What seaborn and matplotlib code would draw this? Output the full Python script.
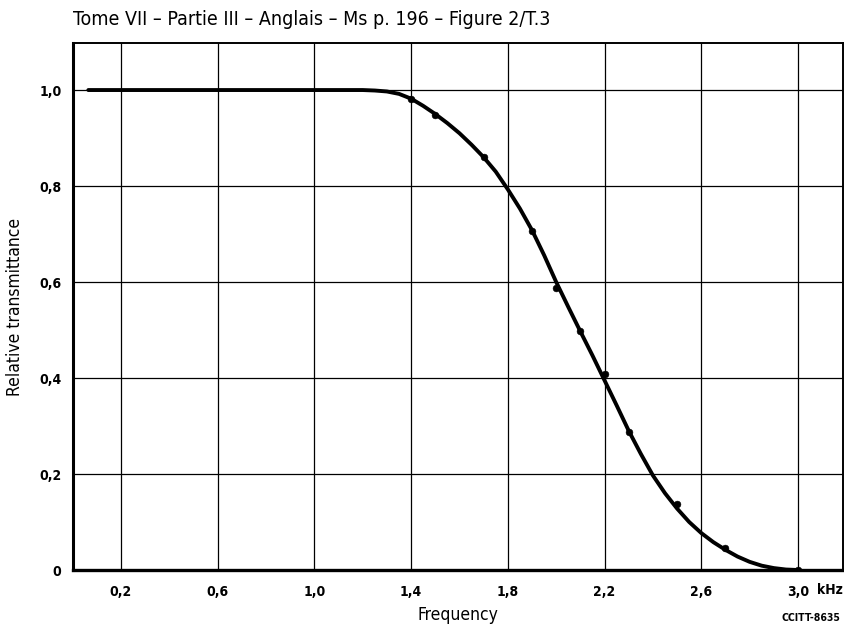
import matplotlib
matplotlib.use("Agg")
import matplotlib.pyplot as plt
import seaborn as sns
import pandas as pd

# Fitted curve
curve_x = [0.065, 0.4, 0.8, 1.1, 1.2, 1.25, 1.3, 1.35, 1.4, 1.45, 1.5, 1.55, 1.6, 1.65,
           1.7, 1.75, 1.8, 1.85, 1.9, 1.95, 2.0, 2.05, 2.1, 2.15, 2.2, 2.25, 2.3,
           2.35, 2.4, 2.45, 2.5, 2.55, 2.6, 2.65, 2.7, 2.75, 2.8, 2.85, 2.9, 2.95, 3.0]
curve_y = [1.0, 1.0, 1.0, 1.0, 1.0, 0.999, 0.997, 0.992, 0.982, 0.967, 0.950, 0.931,
           0.910, 0.886, 0.860, 0.830, 0.793, 0.753, 0.708, 0.656, 0.600, 0.548,
           0.497, 0.447, 0.395, 0.343, 0.290, 0.242, 0.197, 0.160, 0.128, 0.100,
           0.077, 0.058, 0.042, 0.028, 0.017, 0.009, 0.004, 0.001, 0.0]

# Measured points
meas_x = [1.4, 1.5, 1.7, 1.9, 2.0, 2.1, 2.2, 2.3, 2.5, 2.7, 3.0]
meas_y = [0.981, 0.948, 0.86, 0.706, 0.587, 0.498, 0.408, 0.287, 0.138, 0.046, 0.0]

xticks = [0.2, 0.6, 1.0, 1.4, 1.8, 2.2, 2.6, 3.0]
xticklabels = ["0,2", "0,6", "1,0", "1,4", "1,8", "2,2", "2,6", "3,0"]
yticks = [0, 0.2, 0.4, 0.6, 0.8, 1.0]
yticklabels = ["0", "0,2", "0,4", "0,6", "0,8", "1,0"]

sns.set_style("white")
plt.rcParams['font.family'] = ['DejaVu Sans']
plt.rcParams['font.stretch'] = 'condensed'
plt.rcParams['text.color'] = 'black'
plt.rcParams['axes.labelcolor'] = 'black'
plt.rcParams['xtick.color'] = 'black'
plt.rcParams['ytick.color'] = 'black'

fig = plt.figure(figsize=(8.45, 6.25), dpi=100)
ax = fig.add_axes([0.0859, 0.088, 0.9117, 0.8432])

df_curve = pd.DataFrame({"x": curve_x, "y": curve_y})
df_meas = pd.DataFrame({"x": meas_x, "y": meas_y})

sns.lineplot(data=df_curve, x="x", y="y", ax=ax, color="black", linewidth=2.8,
             sort=True, zorder=3)
sns.scatterplot(data=df_meas, x="x", y="y", ax=ax, color="black", s=24,
                edgecolor="black", zorder=4)

ax.set_xlim(0, 3.186)
ax.set_ylim(0, 1.098)
ax.set_xticks(xticks)
ax.set_xticklabels(xticklabels, fontsize=10, fontweight="bold")
ax.set_yticks(yticks)
ax.set_yticklabels(yticklabels, fontsize=10, fontweight="bold")
ax.grid(True, color="black", linewidth=0.9)
ax.set_axisbelow(True)

ax.tick_params(axis="y", direction="out", length=5, width=1, color="black", pad=3)
ax.tick_params(axis="x", length=0, pad=11)

for side, sp in ax.spines.items():
    sp.set_visible(True)
    sp.set_color("black")
ax.spines["left"].set_linewidth(2.2)
ax.spines["bottom"].set_linewidth(2.4)
ax.spines["top"].set_linewidth(1.4)
ax.spines["right"].set_linewidth(1.4)

ax.set_xlabel("Frequency", fontsize=12.5, labelpad=5)
ax.set_ylabel("Relative transmittance", fontsize=12.5, labelpad=11)

fig.text(0.998, 0.0555, "kHz", fontsize=10, fontweight="bold", ha="right", va="center")
fig.text(0.086, 0.969, "Tome VII \u2013 Partie III \u2013 Anglais \u2013 Ms p. 196 \u2013 Figure 2/T.3",
         fontsize=14, ha="left", va="center")
fig.text(0.994, 0.011, "CCITT-8635", fontsize=7.5, fontweight="bold", ha="right", va="center")

fig.savefig("out.png", dpi=100)
